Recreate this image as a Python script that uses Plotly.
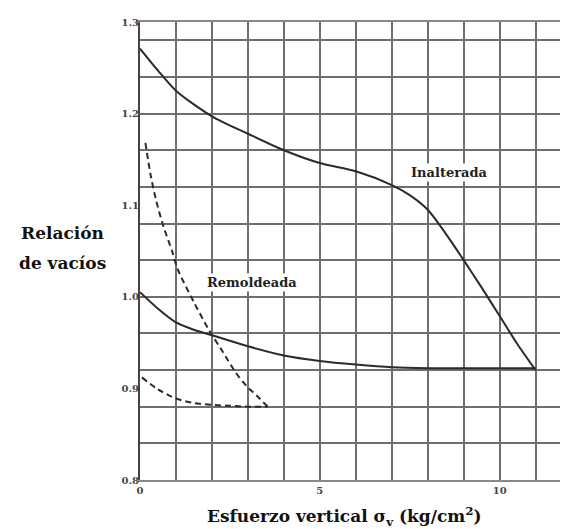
import plotly.graph_objects as go

# Undisturbed (Inalterada) curve
inal_x = [0, 0.5, 1, 2, 3, 4, 5, 6, 7, 7.5, 8, 8.5, 9, 9.5, 10, 10.5, 11]
inal_e = [1.271, 1.247, 1.225, 1.197, 1.178, 1.160, 1.146, 1.137, 1.122, 1.111,
          1.095, 1.069, 1.040, 1.010, 0.979, 0.948, 0.920]

# Remoulded (Remoldeada) solid curve
rem_x = [0, 0.5, 1, 1.5, 2, 3, 4, 5, 6, 7, 8, 9, 10, 11]
rem_e = [1.005, 0.987, 0.972, 0.964, 0.958, 0.946, 0.936, 0.930, 0.926, 0.923,
         0.922, 0.922, 0.922, 0.922]

# Dashed steep curve
d1_x = [0.15, 0.3, 0.45, 0.65, 0.9, 1.05, 1.5, 1.9, 2.3, 2.65, 2.95, 3.3, 3.55]
d1_e = [1.168, 1.132, 1.105, 1.077, 1.049, 1.030, 0.994, 0.965, 0.940, 0.918,
        0.903, 0.890, 0.880]

# Dashed lower curve
d2_x = [0.05, 0.5, 1, 1.5, 2, 2.5, 3, 3.55]
d2_e = [0.912, 0.899, 0.889, 0.884, 0.882, 0.881, 0.880, 0.880]

y_ticks = [0.8, 0.9, 1.0, 1.1, 1.2, 1.3]
y_ticktext = ["<b>0.8</b>", "<b>0.9</b>", "<b>1.0</b>", "<b>1.1</b>", "<b>1.2</b>", "<b>1.3</b>"]
x_ticks = [0, 5, 10]
x_ticktext = ["<b>0</b>", "<b>5</b>", "<b>10</b>"]

SERIF = "DejaVu Serif"
LINE = "#2b2b2b"
GRID = "#6e6e6e"

fig = go.Figure()
fig.add_trace(go.Scatter(x=inal_x, y=inal_e, mode="lines",
                         line=dict(color=LINE, width=2, shape="spline", smoothing=0.8),
                         showlegend=False, hoverinfo="skip"))
fig.add_trace(go.Scatter(x=rem_x, y=rem_e, mode="lines",
                         line=dict(color=LINE, width=2, shape="spline", smoothing=0.8),
                         showlegend=False, hoverinfo="skip"))
fig.add_trace(go.Scatter(x=d1_x, y=d1_e, mode="lines",
                         line=dict(color=LINE, width=2, dash="6px,4px", shape="spline", smoothing=0.8),
                         showlegend=False, hoverinfo="skip"))
fig.add_trace(go.Scatter(x=d2_x, y=d2_e, mode="lines", yaxis="y2",
                         line=dict(color=LINE, width=2, dash="6px,4px", shape="spline", smoothing=0.8),
                         showlegend=False, hoverinfo="skip"))

# page body has an 8px offset; margins compensate so the plot area sits at x 140-568, y 20-480
fig.update_layout(
    width=568, height=529,
    margin=dict(l=132, r=8, t=12, b=57),
    paper_bgcolor="white", plot_bgcolor="white",
    xaxis=dict(range=[0, 11.9], tickvals=x_ticks, ticktext=x_ticktext,
               showgrid=True, gridcolor=GRID, gridwidth=2,
               minor=dict(dtick=1, tick0=0, showgrid=True, gridcolor=GRID, gridwidth=2),
               showline=True, linecolor="#888", linewidth=2, mirror=True,
               ticks="", zeroline=False,
               tickfont=dict(family=SERIF, size=10, color="#444")),
    yaxis=dict(range=[0.8, 1.3], tick0=0.8, dtick=0.04, showgrid=True, gridcolor=GRID, gridwidth=2,
               showticklabels=False, ticks="", zeroline=False,
               showline=True, linecolor="#444", linewidth=2),
    yaxis2=dict(range=[0.8, 1.3], overlaying="y", side="left", tickvals=y_ticks, ticktext=y_ticktext,
                showgrid=False, zeroline=False, ticks="", showline=False,
                tickfont=dict(family=SERIF, size=10, color="#444")),
)

fig.add_annotation(text="<b>Esfuerzo vertical σ<sub>v</sub> (kg/cm<sup>2</sup>)</b>",
                   xref="paper", yref="paper", x=(344 - 140) / 428, y=-37 / 460,
                   showarrow=False, font=dict(family=SERIF, size=17, color="#111"),
                   xanchor="center", yanchor="middle")
fig.add_annotation(text="<b>Relación</b>", xref="paper", yref="paper",
                   x=(62 - 140) / 428, y=(480 - 232) / 460, showarrow=False,
                   font=dict(family=SERIF, size=17, color="#111"), xanchor="center", yanchor="middle")
fig.add_annotation(text="<b>de vacíos</b>", xref="paper", yref="paper",
                   x=(62 - 140) / 428, y=(480 - 262) / 460, showarrow=False,
                   font=dict(family=SERIF, size=17, color="#111"), xanchor="center", yanchor="middle")
fig.add_annotation(text="<b>Inalterada</b>", x=8.6, y=1.136, showarrow=False,
                   font=dict(family=SERIF, size=13, color="#222"), xanchor="center", yanchor="middle",
                   bgcolor="white")
fig.add_annotation(text="<b>Remoldeada</b>", x=3.12, y=1.016, showarrow=False,
                   font=dict(family=SERIF, size=13, color="#222"), xanchor="center", yanchor="middle",
                   bgcolor="white")

fig.write_html("out.html")
